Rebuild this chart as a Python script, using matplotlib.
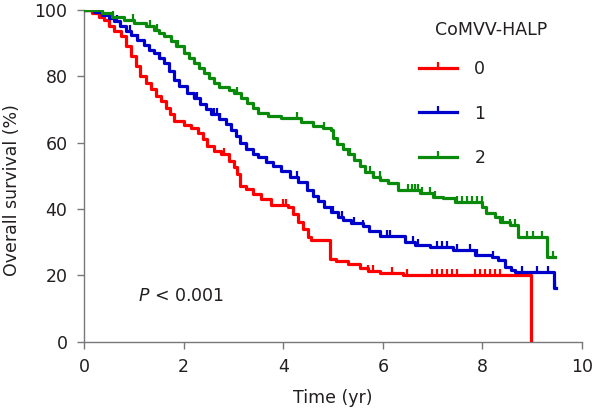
import numpy as np
import matplotlib
matplotlib.use("Agg")
import matplotlib.pyplot as plt
from matplotlib.lines import Line2D

# Kaplan-Meier steps (time in yr, survival in %)
t0 = [0, 0.15, 0.3, 0.4, 0.5, 0.6, 0.75, 0.85, 0.95, 1.05, 1.12, 1.25, 1.35, 1.45,
      1.55, 1.65, 1.73, 1.8, 2.0, 2.15, 2.28, 2.38, 2.46, 2.6, 2.75, 2.9, 3.0, 3.07,
      3.13, 3.25, 3.4, 3.55, 3.75, 4.1, 4.2, 4.3, 4.4, 4.5, 4.55, 4.94, 5.05, 5.3,
      5.55, 5.7, 5.95, 6.4, 8.97]
s0 = [100, 99, 98, 97, 95, 93.5, 92, 89, 86, 83, 80, 78, 76, 74,
      72.5, 70.5, 68.5, 66.5, 65.3, 64.3, 63, 61, 59, 57.5, 56.5, 54.5, 52.5, 50.5,
      47, 46, 44.5, 43, 41.2, 40.5, 38.5, 36, 34, 31.5, 30.5, 25, 24.2, 23.3,
      22.2, 21.2, 20.6, 20.1, 0]
cens0 = [0.2, 0.35, 0.5, 2.8, 4.0, 4.05, 5.71, 5.81, 6.18, 6.48, 6.98, 7.08, 7.18,
         7.28, 7.38, 7.48, 7.85, 7.95, 8.05, 8.15, 8.25, 8.35]

t1 = [0, 0.2, 0.35, 0.5, 0.6, 0.72, 0.85, 0.95, 1.06, 1.2, 1.3, 1.4, 1.5, 1.6, 1.7,
      1.8, 1.9, 2.06, 2.2, 2.33, 2.45, 2.55, 2.7, 2.85, 2.95, 3.05, 3.13, 3.25, 3.4,
      3.5, 3.65, 3.8, 3.95, 4.14, 4.3, 4.47, 4.6, 4.7, 4.81, 4.95, 5.1, 5.2, 5.35,
      5.6, 5.72, 5.94, 6.45, 6.65, 6.95, 7.4, 7.85, 8.2, 8.32, 8.45, 8.58, 8.65,
      9.43, 9.47]
s1 = [100, 99.5, 98.5, 97.5, 96.5, 95, 93.5, 92.5, 91, 89.5, 88, 87, 85.5, 84, 81.5,
      79, 77, 75, 73.5, 71.5, 70, 68.5, 67, 65.5, 63.8, 62, 59.8, 58, 56.5,
      55.5, 54, 52.8, 51.5, 49.7, 48, 45.7, 44, 42.5, 40.7, 39.2, 37.7, 36.7, 35.7,
      34.7, 33.2, 31.7, 30.1, 29.1, 28.5, 27.6, 26.1, 25.6, 24.6, 22.6, 21.6, 21.1,
      16.1, 16.1]
cens1 = [0.29, 0.35, 0.66, 0.92, 1.09, 1.53, 2.2, 2.26, 2.6, 2.66, 2.73, 3.27, 3.67,
         4.27, 5.0, 5.17, 5.41, 5.61, 6.08, 6.14, 6.61, 6.71, 7.08, 7.18, 7.28,
         7.48, 7.75, 7.89, 8.22, 8.79, 9.09, 9.32, 9.46]

t2 = [0, 0.35, 0.55, 0.8, 1.0, 1.25, 1.4, 1.5, 1.6, 1.75, 1.85, 2.0, 2.1, 2.2, 2.3,
      2.4, 2.5, 2.6, 2.7, 2.9, 3.0, 3.15, 3.27, 3.4, 3.5, 3.7, 3.95, 4.35, 4.6, 4.8,
      4.95, 5.0, 5.07, 5.2, 5.3, 5.41, 5.55, 5.65, 5.8, 5.95, 6.1, 6.3, 6.75, 7.0,
      7.2, 7.45, 8.0, 8.07, 8.25, 8.35, 8.55, 8.72, 9.29, 9.45]
s2 = [100, 99, 98, 97, 96, 95, 94, 93, 92, 90.5, 89, 87, 85.5, 84, 82.5,
      81, 79.5, 78, 76.9, 75.9, 74.9, 73.5, 72, 70.5, 69, 68, 67.3, 66.3, 65, 64.3,
      63.8, 61.5, 59.5, 58, 56.5, 54.8, 53, 51, 49.7, 48.8, 47.7, 45.7, 44.7, 43.7,
      43.2, 42.2, 40.7, 38.7, 37.5, 36, 35.2, 31.5, 25.5, 25.5]
cens2 = [0.22, 0.32, 0.59, 0.99, 1.33, 1.46, 1.89, 3.07, 4.27, 4.81, 5.34, 5.74,
         5.81, 5.94, 6.51, 6.58, 6.65, 6.71, 6.78, 6.95, 7.05, 7.48, 7.58, 7.68,
         7.78, 7.89, 7.99, 8.42, 8.55, 8.65, 8.89, 9.02, 9.19, 9.41]

groups = ["0", "1", "2"]
colors = ["#ff0000", "#0000cc", "#0a8a0a"]

fig = plt.figure(figsize=(6.14, 4.12), dpi=100)
ax = fig.add_axes([0.137, 0.171, 0.811, 0.805])

txt = "#231f20"
fs = 12.5

for t, s, c, col in [(t0, s0, cens0, colors[0]), (t1, s1, cens1, colors[1]),
                     (t2, s2, cens2, colors[2])]:
    t = np.array(t)
    s = np.array(s)
    ax.step(t, s, where="post", color=col, lw=2.3, zorder=3)
    idx = np.searchsorted(t, np.array(c), side="right") - 1
    ax.plot(c, s[idx], linestyle="none", marker=2, ms=4.5, mew=1.6, color=col, zorder=3)

ax.set_xlim(0, 10)
ax.set_ylim(0, 100)
ax.set_xticks(np.arange(0, 11, 2))
ax.set_yticks(np.arange(0, 101, 20))
for sp in ["top", "right"]:
    ax.spines[sp].set_visible(False)
for sp in ["left", "bottom"]:
    ax.spines[sp].set_color("#77787b")
    ax.spines[sp].set_linewidth(1.0)
ax.tick_params(direction="out", length=5, width=1.0, color="#77787b",
               labelsize=fs, labelcolor=txt, pad=7)
ax.set_xlabel("Time (yr)", fontsize=fs, color=txt, labelpad=9)
ax.set_ylabel("Overall survival (%)", fontsize=fs, color=txt, labelpad=10)
ax.yaxis.set_label_coords(-0.126, 0.457)

ax.text(1.08, 13.8, r"$\it{P}$ < 0.001", fontsize=fs, color=txt, va="center")

handles = [Line2D([0], [0], color=col, lw=2.3, marker=2, ms=4.5, mew=1.6) for col in colors]
ax.legend(handles, groups, loc="upper left", bbox_to_anchor=(0.672, 0.85),
          frameon=False, fontsize=fs, handlelength=2.2, handletextpad=1.0,
          labelspacing=1.55, borderpad=0, borderaxespad=0, numpoints=1,
          labelcolor=txt)
ax.text(0.817, 0.94, "CoMVV-HALP", transform=ax.transAxes, fontsize=fs,
        color=txt, ha="center", va="center")

fig.savefig("out.png", dpi=100)
